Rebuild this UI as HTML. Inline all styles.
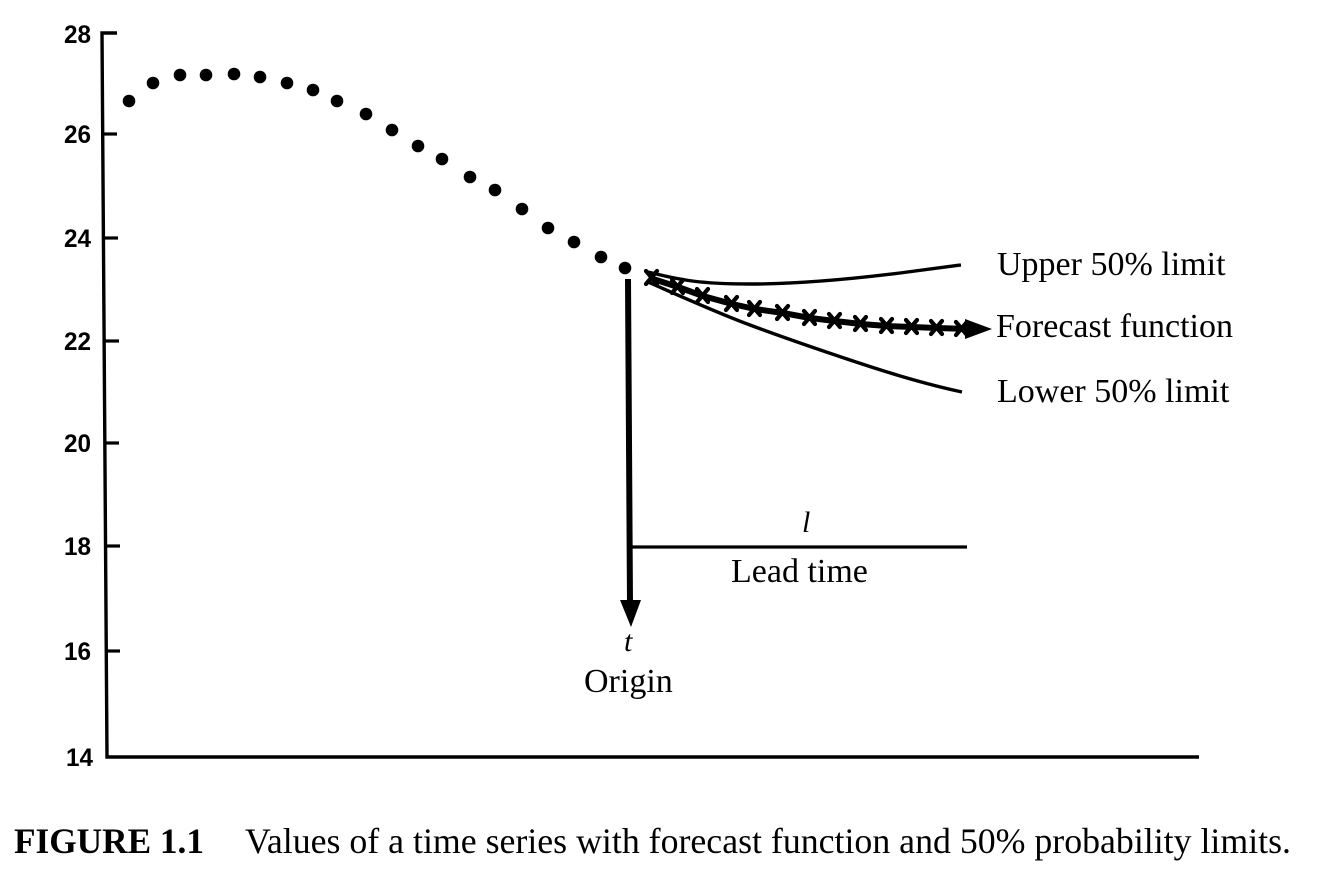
<!DOCTYPE html>
<html>
<head>
<meta charset="utf-8">
<style>
  html, body { margin: 0; padding: 0; background: #fff; }
  svg { display: block; }
  .tick { font-family: "Liberation Sans", "DejaVu Sans", sans-serif; font-weight: bold; font-size: 25px; fill: #000; }
  .lbl { font-family: "Liberation Serif", "DejaVu Serif", serif; font-size: 34px; fill: #000; }
  .it { font-family: "Liberation Serif", "DejaVu Serif", serif; font-style: italic; font-size: 30px; fill: #000; }
  .cap { font-family: "Liberation Serif", "DejaVu Serif", serif; font-size: 36px; fill: #000; }
</style>
</head>
<body>
<svg width="1330" height="884" viewBox="0 0 1330 884" xmlns="http://www.w3.org/2000/svg">
  <!-- Axes -->
  <path d="M117,33 L102,33 L107,757 L1199,757" fill="none" stroke="#000" stroke-width="3.4" stroke-linejoin="miter"/>
  <!-- Y ticks -->
  <g stroke="#000" stroke-width="3.2">
    <line x1="102" y1="134" x2="117" y2="134"/>
    <line x1="103" y1="238" x2="118" y2="238"/>
    <line x1="104" y1="341" x2="119" y2="341"/>
    <line x1="105" y1="443" x2="119" y2="443"/>
    <line x1="105" y1="546" x2="120" y2="546"/>
    <line x1="106" y1="651" x2="120" y2="651"/>
  </g>
  <!-- Y tick labels -->
  <g class="tick" text-anchor="end">
    <text x="91" y="43" textLength="27" lengthAdjust="spacingAndGlyphs">28</text>
    <text x="91" y="143" textLength="27" lengthAdjust="spacingAndGlyphs">26</text>
    <text x="91" y="247" textLength="27" lengthAdjust="spacingAndGlyphs">24</text>
    <text x="91" y="350" textLength="27" lengthAdjust="spacingAndGlyphs">22</text>
    <text x="91" y="452" textLength="27" lengthAdjust="spacingAndGlyphs">20</text>
    <text x="91" y="555" textLength="27" lengthAdjust="spacingAndGlyphs">18</text>
    <text x="91" y="660" textLength="27" lengthAdjust="spacingAndGlyphs">16</text>
    <text x="93" y="766" textLength="27" lengthAdjust="spacingAndGlyphs">14</text>
  </g>
  <!-- Data dots -->
  <g fill="#000">
    <circle cx="129" cy="101" r="6.3"/>
    <circle cx="153" cy="83" r="6.3"/>
    <circle cx="180" cy="75" r="6.3"/>
    <circle cx="206" cy="75" r="6.3"/>
    <circle cx="234" cy="74" r="6.3"/>
    <circle cx="260" cy="77" r="6.3"/>
    <circle cx="287" cy="83" r="6.3"/>
    <circle cx="313" cy="90" r="6.3"/>
    <circle cx="337" cy="101" r="6.3"/>
    <circle cx="366" cy="114" r="6.3"/>
    <circle cx="392" cy="130" r="6.3"/>
    <circle cx="418" cy="146" r="6.3"/>
    <circle cx="442" cy="159" r="6.3"/>
    <circle cx="470" cy="177" r="6.3"/>
    <circle cx="495" cy="190" r="6.3"/>
    <circle cx="522" cy="209" r="6.3"/>
    <circle cx="548" cy="228" r="6.3"/>
    <circle cx="574" cy="242" r="6.3"/>
    <circle cx="601" cy="257" r="6.3"/>
    <circle cx="625" cy="268" r="6.3"/>
  </g>
  <!-- Origin arrow -->
  <line x1="628" y1="279" x2="630" y2="605" stroke="#000" stroke-width="6"/>
  <polygon points="620,600 641,600 631,627" fill="#000"/>
  <!-- Lead time line -->
  <line x1="630" y1="547" x2="967" y2="547" stroke="#000" stroke-width="3.2"/>
  <!-- Upper limit -->
  <path d="M648,272 C680,280 700,284 750,284 C800,284 860,278 900,273 C930,269 945,267 961,265" fill="none" stroke="#000" stroke-width="3.4"/>
  <!-- Lower limit -->
  <path d="M648,282 C680,296 720,314 750,325 C790,340 820,350 850,360 C880,370 920,383 962,392" fill="none" stroke="#000" stroke-width="3.4"/>
  <!-- Forecast function -->
  <path d="M650,278 L678,287 L703,296 L732,304 L755,309 L783,313 L810,318 L835,321 L861,324 L887,326 L912,327 L937,328 L968,329" fill="none" stroke="#000" stroke-width="6" stroke-linejoin="round"/>
  <polygon points="965,319 992,329 965,339" fill="#000"/>
  <g stroke="#000" stroke-width="4.2" stroke-linecap="round">
    <path d="M646,271 l11,13 M657,271 l-11,13"/>
    <path d="M672,280 l11,13 M683,280 l-11,13"/>
    <path d="M697,289 l11,13 M708,289 l-11,13"/>
    <path d="M726,297 l11,13 M737,297 l-11,13"/>
    <path d="M749,302 l11,13 M760,302 l-11,13"/>
    <path d="M777,306 l11,13 M788,306 l-11,13"/>
    <path d="M804,311 l11,13 M815,311 l-11,13"/>
    <path d="M829,314 l11,13 M840,314 l-11,13"/>
    <path d="M855,317 l11,13 M866,317 l-11,13"/>
    <path d="M881,319 l11,13 M892,319 l-11,13"/>
    <path d="M906,320 l11,13 M917,320 l-11,13"/>
    <path d="M931,321 l11,13 M942,321 l-11,13"/>
    <path d="M956,322 l11,13 M967,322 l-11,13"/>
  </g>
  <!-- Labels -->
  <text class="lbl" x="997" y="275">Upper 50% limit</text>
  <text class="lbl" x="996" y="337">Forecast function</text>
  <text class="lbl" x="997" y="402">Lower 50% limit</text>
  <text class="it" x="802" y="532">l</text>
  <text class="lbl" x="731" y="582">Lead time</text>
  <text class="it" x="624" y="651">t</text>
  <text class="lbl" x="584" y="692">Origin</text>
  <!-- Caption -->
  <text class="cap" x="14" y="853"><tspan font-weight="bold" textLength="190" lengthAdjust="spacingAndGlyphs">FIGURE 1.1</tspan></text>
  <text class="cap" x="245" y="853" textLength="1046" lengthAdjust="spacingAndGlyphs">Values of a time series with forecast function and 50% probability limits.</text>
</svg>
</body>
</html>
